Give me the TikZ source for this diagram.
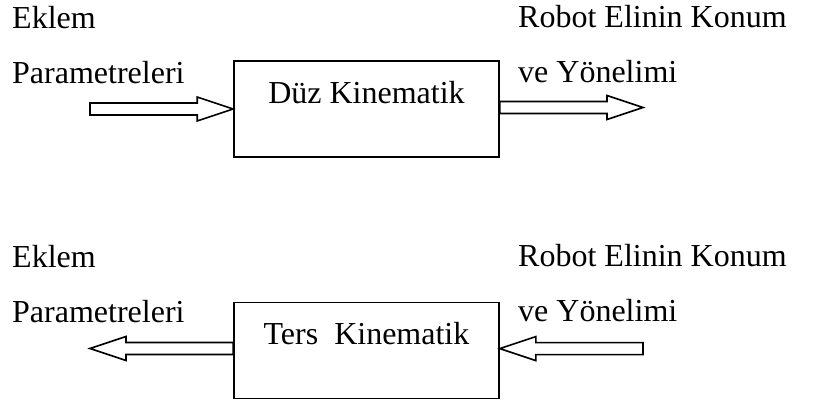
\documentclass[tikz,border=0pt]{standalone}
\usepackage{fontspec}
\setmainfont{Liberation Serif}
\usetikzlibrary{positioning, calc}

\begin{document}
\begin{tikzpicture}[
    x=1pt, y=-1pt,
    font=\fontsize{32}{38}\selectfont,
    kbox/.style={rectangle, draw, line width=1.6pt, minimum width=265pt, minimum height=96pt, text height=22pt, text depth=34pt},
    lbl/.style={anchor=base west, inner sep=0pt},
    fat/.style={draw, fill=white, line width=1.6pt, line join=miter,
      to path={let \p1=(\tikztostart), \p2=(\tikztotarget), \n1={ifthenelse(\x2>\x1,1,-1)*36} in
        (\x1,\y2-6pt) -- (\x2-\n1*1pt,\y2-6pt) -- (\x2-\n1*1pt,\y2-12pt) -- (\x2,\y2)
        -- (\x2-\n1*1pt,\y2+12pt) -- (\x2-\n1*1pt,\y2+6pt) -- (\x1,\y2+6pt) -- cycle}}
]
\useasboundingbox (0,0) rectangle (821,399);

% forward kinematics
\node[kbox] (duz) at (366.5,109) {Düz Kinematik};
\node[lbl] (eklem1) at (12,28) {Eklem};
\node[lbl] (param1) at (12,83) {Parametreleri};
\node[lbl] (robot1) at (518,27) {Robot Elinin Konum};
\node[lbl] (yon1) at (518,82) {ve Yönelimi};
\coordinate (jin) at (90,109);
\coordinate (pout) at (643,107.5);
\draw[fat] (jin) to (duz.west);
\draw[fat] (duz.east) to (pout);

% inverse kinematics
\node[kbox, below=144pt of duz] (ters) {Ters\ \ Kinematik};
\node[lbl] (eklem2) at (12,267) {Eklem};
\node[lbl] (param2) at (12,322) {Parametreleri};
\node[lbl] (robot2) at (518,266) {Robot Elinin Konum};
\node[lbl] (yon2) at (518,321) {ve Yönelimi};
\coordinate (jout) at (90,348.5);
\coordinate (pin) at (643,347);
\draw[fat] (ters.west) to (jout);
\draw[fat] (pin) to ([yshift=2pt]ters.east);

\end{tikzpicture}
\end{document}
